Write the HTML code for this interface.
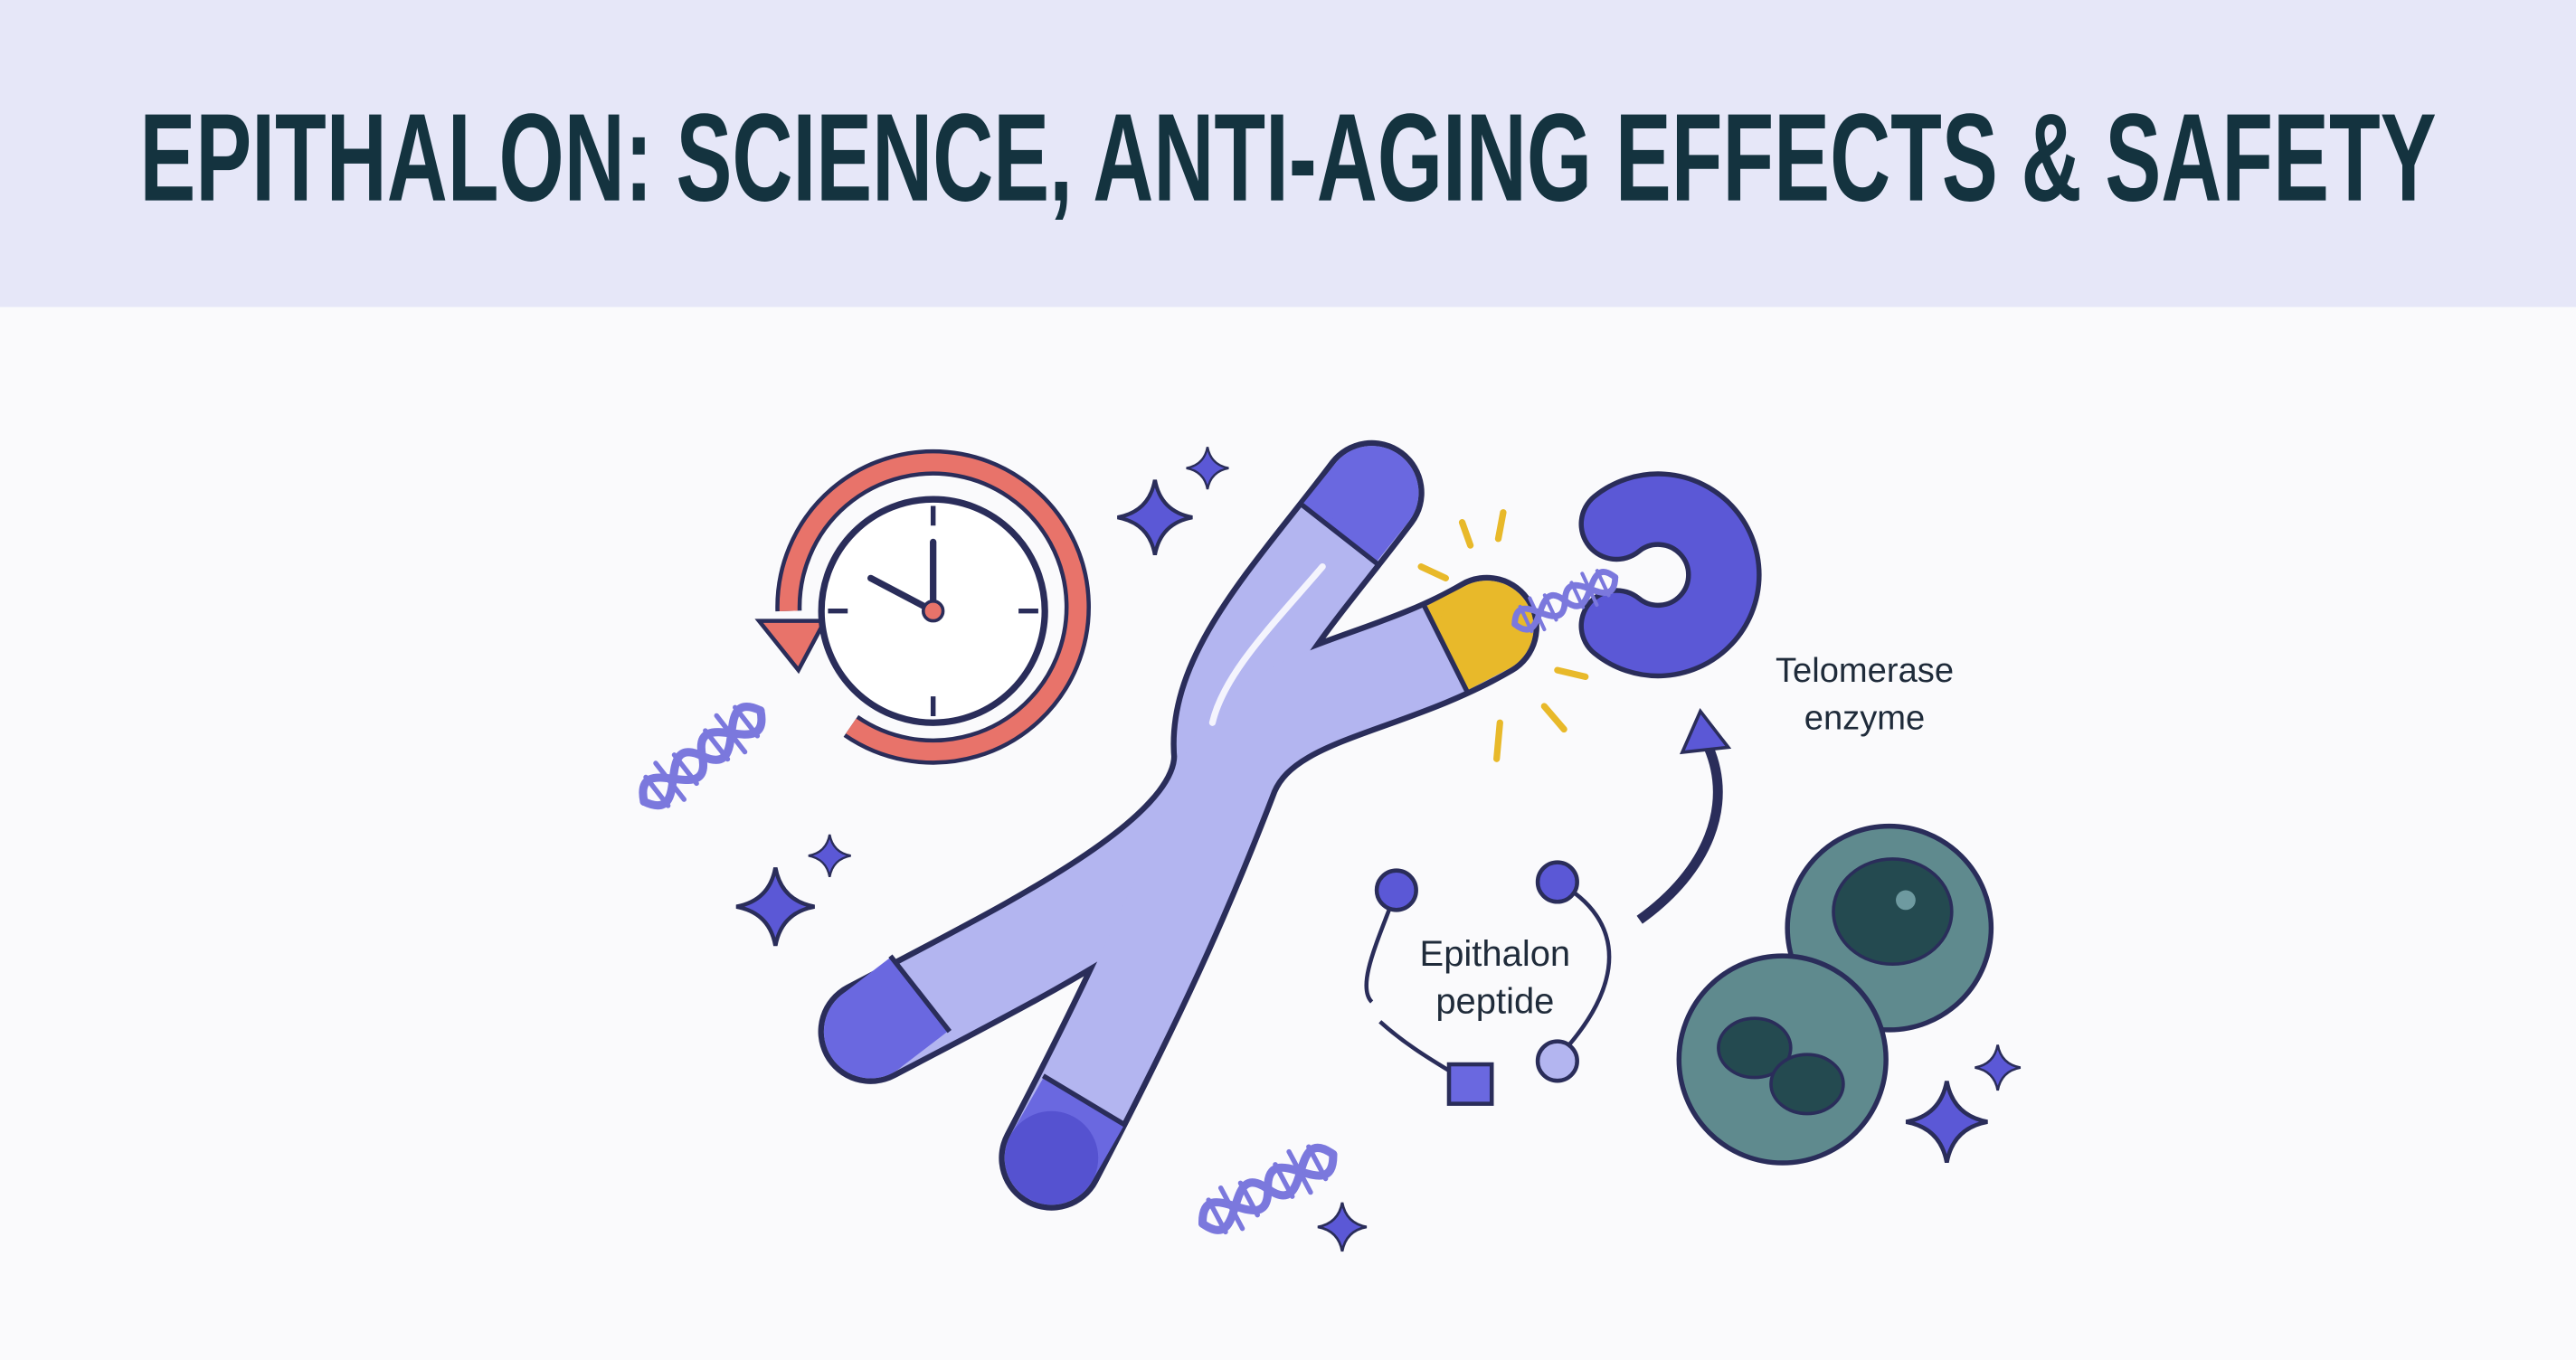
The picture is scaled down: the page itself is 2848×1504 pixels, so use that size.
<!DOCTYPE html>
<html><head><meta charset="utf-8"><style>
html,body{margin:0;padding:0;background:#fafafc;}
svg{display:block;}
</style></head><body>
<svg width="2848" height="1504" viewBox="0 0 1568 828" preserveAspectRatio="none" xmlns="http://www.w3.org/2000/svg">
<defs>
<symbol id="sp" viewBox="-20 -20 40 40"><path d="M0-20 Q3-3 20 0 Q3 3 0 20 Q-3 3-20 0 Q-3-3 0-20Z" fill="#5b58d6" stroke="#2a2d5a" stroke-width="2"/></symbol>
<g id="dna" fill="none" stroke-linecap="round">
<path d="M0 0 C15 -30 30 30 45 0 C60 -30 75 30 90 0" stroke="#7b78dd" stroke-width="5"/>
<path d="M0 0 C15 30 30 -30 45 0 C60 30 75 -30 90 0" stroke="#7b78dd" stroke-width="5"/>
<path d="M10 -11V11M20 -14V14M32 -11V11M56 -11V11M67 -14V14M79 -11V11" stroke="#7b78dd" stroke-width="3"/>
</g>
</defs>
<rect x="0" y="0" width="1568" height="187" fill="#e6e7f8"/>
<rect x="0" y="187" width="1568" height="641" fill="#fafafc"/>
<text x="784" y="122" text-anchor="middle" font-family="Liberation Sans Narrow, Liberation Sans, sans-serif" font-weight="bold" font-size="76" fill="#14333f" textLength="1398" lengthAdjust="spacingAndGlyphs">EPITHALON: SCIENCE, ANTI-AGING EFFECTS &amp; SAFETY</text>

<!-- clock -->
<path d="M480 372 A88 88 0 1 1 518 442" fill="none" stroke="#2a2d5a" stroke-width="16"/>
<path d="M480 372 A88 88 0 1 1 518 442" fill="none" stroke="#e8736a" stroke-width="11"/>
<path d="M462 378 L502 378 L486 408Z" fill="#e8736a" stroke="#2a2d5a" stroke-width="2.5"/>
<circle cx="568" cy="372" r="68" fill="#fff" stroke="#2a2d5a" stroke-width="4"/>
<path d="M568 308V320M568 424V436M504 372H516M620 372H632" stroke="#2a2d5a" stroke-width="3"/>
<path d="M568 372V330M568 372L530 352" stroke="#2a2d5a" stroke-width="4" stroke-linecap="round"/>
<circle cx="568" cy="372" r="6" fill="#e8736a" stroke="#2a2d5a" stroke-width="2"/>

<!-- chromosome -->
<g fill="none">
<path d="M835 300 C790 360 740 410 745 460 C745 520 640 570 530 628" stroke="#2a2d5a" stroke-width="64" stroke-linecap="round"/>
<path d="M905 382 C840 420 770 420 748 470 C725 530 700 590 640 705" stroke="#2a2d5a" stroke-width="64" stroke-linecap="round"/>
<path d="M835 300 C790 360 740 410 745 460 C745 520 640 570 530 628" stroke="#b3b5f0" stroke-width="57" stroke-linecap="round"/>
<path d="M905 382 C840 420 770 420 748 470 C725 530 700 590 640 705" stroke="#b3b5f0" stroke-width="57" stroke-linecap="round"/>
<path d="M805 345 C775 380 745 410 738 440" stroke="#fff" stroke-width="4" opacity=".85" stroke-linecap="round"/>
<path d="M815 325 L835 300" stroke="#6a68e0" stroke-width="57"/>
<path d="M560 605 L530 628" stroke="#6a68e0" stroke-width="57"/>
<path d="M660 670 L640 705" stroke="#6a68e0" stroke-width="57"/>
<path d="M880 395 L905 382" stroke="#e8b92a" stroke-width="57"/>
</g>
<circle cx="835" cy="300" r="28.5" fill="#6a68e0"/>
<circle cx="530" cy="628" r="28.5" fill="#6a68e0"/>
<circle cx="640" cy="705" r="28.5" fill="#5552d0"/>
<circle cx="905" cy="382" r="28.5" fill="#e8b92a"/>
<g stroke="#2a2d5a" stroke-width="3">
<path d="M792 307L838 343M542 582L578 628M635 655L685 685M867 369L893 421"/>
</g>
<g stroke="#e8b92a" stroke-width="4" stroke-linecap="round">
<path d="M865 345L880 352M890 318L895 332M915 312L912 328M913 440L911 462M940 430L952 444M948 408L965 412"/>
</g>

<!-- telomerase -->
<path d="M984 319 A40 40 0 1 1 984 381" fill="none" stroke="#2a2d5a" stroke-width="46" stroke-linecap="round"/>
<path d="M984 319 A40 40 0 1 1 984 381" fill="none" stroke="#5b58d6" stroke-width="40" stroke-linecap="round"/>
<use href="#dna" transform="translate(922 380) rotate(-25) scale(0.75)"/>
<text x="1135" y="415" text-anchor="middle" font-family="Liberation Sans, sans-serif" font-size="21" fill="#1f2b3a">Telomerase</text>
<text x="1135" y="444" text-anchor="middle" font-family="Liberation Sans, sans-serif" font-size="21" fill="#1f2b3a">enzyme</text>
<path d="M998 560 C1040 530 1055 490 1040 455" fill="none" stroke="#2a2d5a" stroke-width="6"/>
<path d="M1024 458 L1035 433 L1052 455Z" fill="#5b58d6" stroke="#2a2d5a" stroke-width="2"/>

<!-- peptide -->
<g fill="none" stroke="#2a2d5a" stroke-width="2.5">
<path d="M850 542 C840 570 825 600 835 610 M948 537 C990 560 990 600 948 644 M840 622 C860 640 880 650 895 660"/>
</g>
<circle cx="850" cy="542" r="12" fill="#5b58d6" stroke="#2a2d5a" stroke-width="2.5"/>
<circle cx="948" cy="537" r="12" fill="#5b58d6" stroke="#2a2d5a" stroke-width="2.5"/>
<circle cx="948" cy="646" r="12" fill="#b3b5f0" stroke="#2a2d5a" stroke-width="2.5"/>
<rect x="882" y="648" width="26" height="24" fill="#6a68e0" stroke="#2a2d5a" stroke-width="2.5"/>
<text x="910" y="588" text-anchor="middle" font-family="Liberation Sans, sans-serif" font-size="22" fill="#1f2b3a">Epithalon</text>
<text x="910" y="617" text-anchor="middle" font-family="Liberation Sans, sans-serif" font-size="22" fill="#1f2b3a">peptide</text>

<!-- cell -->
<circle cx="1150" cy="565" r="62" fill="#5f8a8e" stroke="#2a2d5a" stroke-width="3"/>
<circle cx="1085" cy="645" r="63" fill="#5f8a8e" stroke="#2a2d5a" stroke-width="3"/>
<ellipse cx="1152" cy="555" rx="36" ry="32" fill="#244a50" stroke="#2a2d5a" stroke-width="2"/>
<circle cx="1160" cy="548" r="6" fill="#6e9aa0"/>
<ellipse cx="1068" cy="638" rx="22" ry="18" fill="#244a50" stroke="#2a2d5a" stroke-width="2"/>
<ellipse cx="1100" cy="660" rx="22" ry="18" fill="#244a50" stroke="#2a2d5a" stroke-width="2"/>

<!-- sparkles -->
<use href="#sp" x="680" y="292" width="46" height="46"/>
<use href="#sp" x="722" y="272" width="26" height="26"/>
<use href="#sp" x="448" y="528" width="48" height="48"/>
<use href="#sp" x="492" y="508" width="26" height="26"/>
<use href="#sp" x="1160" y="658" width="50" height="50"/>
<use href="#sp" x="1202" y="636" width="28" height="28"/>
<use href="#sp" x="802" y="732" width="30" height="30"/>

<use href="#dna" transform="translate(392 488) rotate(-38)"/>
<use href="#dna" transform="translate(732 745) rotate(-28)"/>
</svg>
</body></html>
